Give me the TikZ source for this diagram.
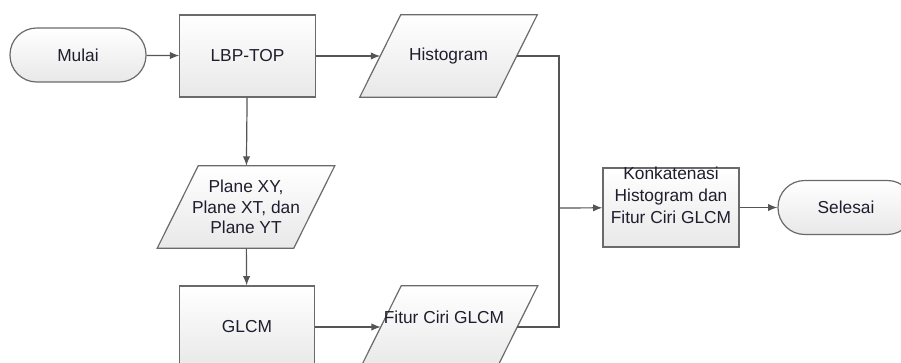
\documentclass[tikz,border=0pt]{standalone}
\usepackage{fontspec}
\setmainfont{Liberation Sans}
\usetikzlibrary{arrows.meta,positioning}
\definecolor{boxline}{HTML}{6A6A6A}
\definecolor{conline}{HTML}{555555}
\definecolor{txt}{HTML}{1E1E2E}
\pgfdeclarelayer{background}
\pgfsetlayers{background,main}
\tikzset{
  shade box/.style={draw=boxline, line width=.9pt, top color=white, bottom color=black!9},
  label text/.style={text=txt, font=\fontsize{13pt}{15.5pt}\selectfont, align=center, inner sep=1pt},
  terminal/.style={shade box, label text, rectangle, rounded corners=20pt, minimum width=102pt, minimum height=40.5pt},
  process/.style={shade box, label text, rectangle, minimum width=101.5pt, minimum height=61.5pt},
  data/.style={label text, rectangle, minimum width=102pt, minimum height=61.5pt},
  flow/.style={draw=conline, line width=.9pt, -{Latex[length=7pt,width=5.5pt]}},
  plain/.style={draw=conline, line width=.9pt}
}
% parallelogram behind a data node
\newcommand\slantbox[1]{%
  \shade[shade box] ([xshift=-15.4pt]#1.south west) -- ([xshift=-15.4pt]#1.south east)
    -- ([xshift=15.4pt]#1.north east) -- ([xshift=15.4pt]#1.north west) -- cycle;}
\begin{document}
\begin{tikzpicture}[x=.75pt, y=-.75pt]
\useasboundingbox (0,0) rectangle (901,363);
\clip (0,0) rectangle (901,363);
\node[terminal] (mulai) at (78,55) {Mulai}; %%
\node[process] (lbp) at (247.5,56) {LBP-TOP}; %%
\node[data] (hist) at (448.5,56) {Histogram}; %%
\node[data] (plane) at (246,207) {Plane XY,\\Plane XT, dan\\Plane YT}; %%
\node[process] (glcm) at (247,327) {GLCM}; %%
\node[data] (fitur) at (449,327) {}; %%
\node[label text] (fiturtxt) at (444,317) {Fitur Ciri GLCM}; %%
\node[process, minimum height=59.25pt, minimum width=102pt] (konk) at (671,207.5) {}; %%
\node[label text, font=\fontsize{13pt}{16.5pt}\selectfont] (konktxt) at (671,195) {Konkatenasi\\Histogram dan\\Fitur Ciri GLCM}; %%
\node[terminal] (selesai) at (846,207.5) {Selesai}; %%
\coordinate (join) at (559,208);
\begin{pgfonlayer}{background}
\slantbox{hist} %%
\slantbox{plane} %%
\slantbox{fitur} %%
\end{pgfonlayer}
\draw[flow] (mulai)--(lbp); %%
\draw[flow] (lbp)--(hist); %%
\draw[flow] (lbp)--(plane); %%
\draw[flow] (plane)--(glcm); %%
\draw[flow] (glcm)--(fitur); %%
\draw[plain] (hist) -| (join); %%
\draw[plain] (fitur) -| (join); %%
\draw[flow] (join)--(konk); %%
\draw[flow] (konk)--(selesai); %%
\end{tikzpicture}
\end{document}
